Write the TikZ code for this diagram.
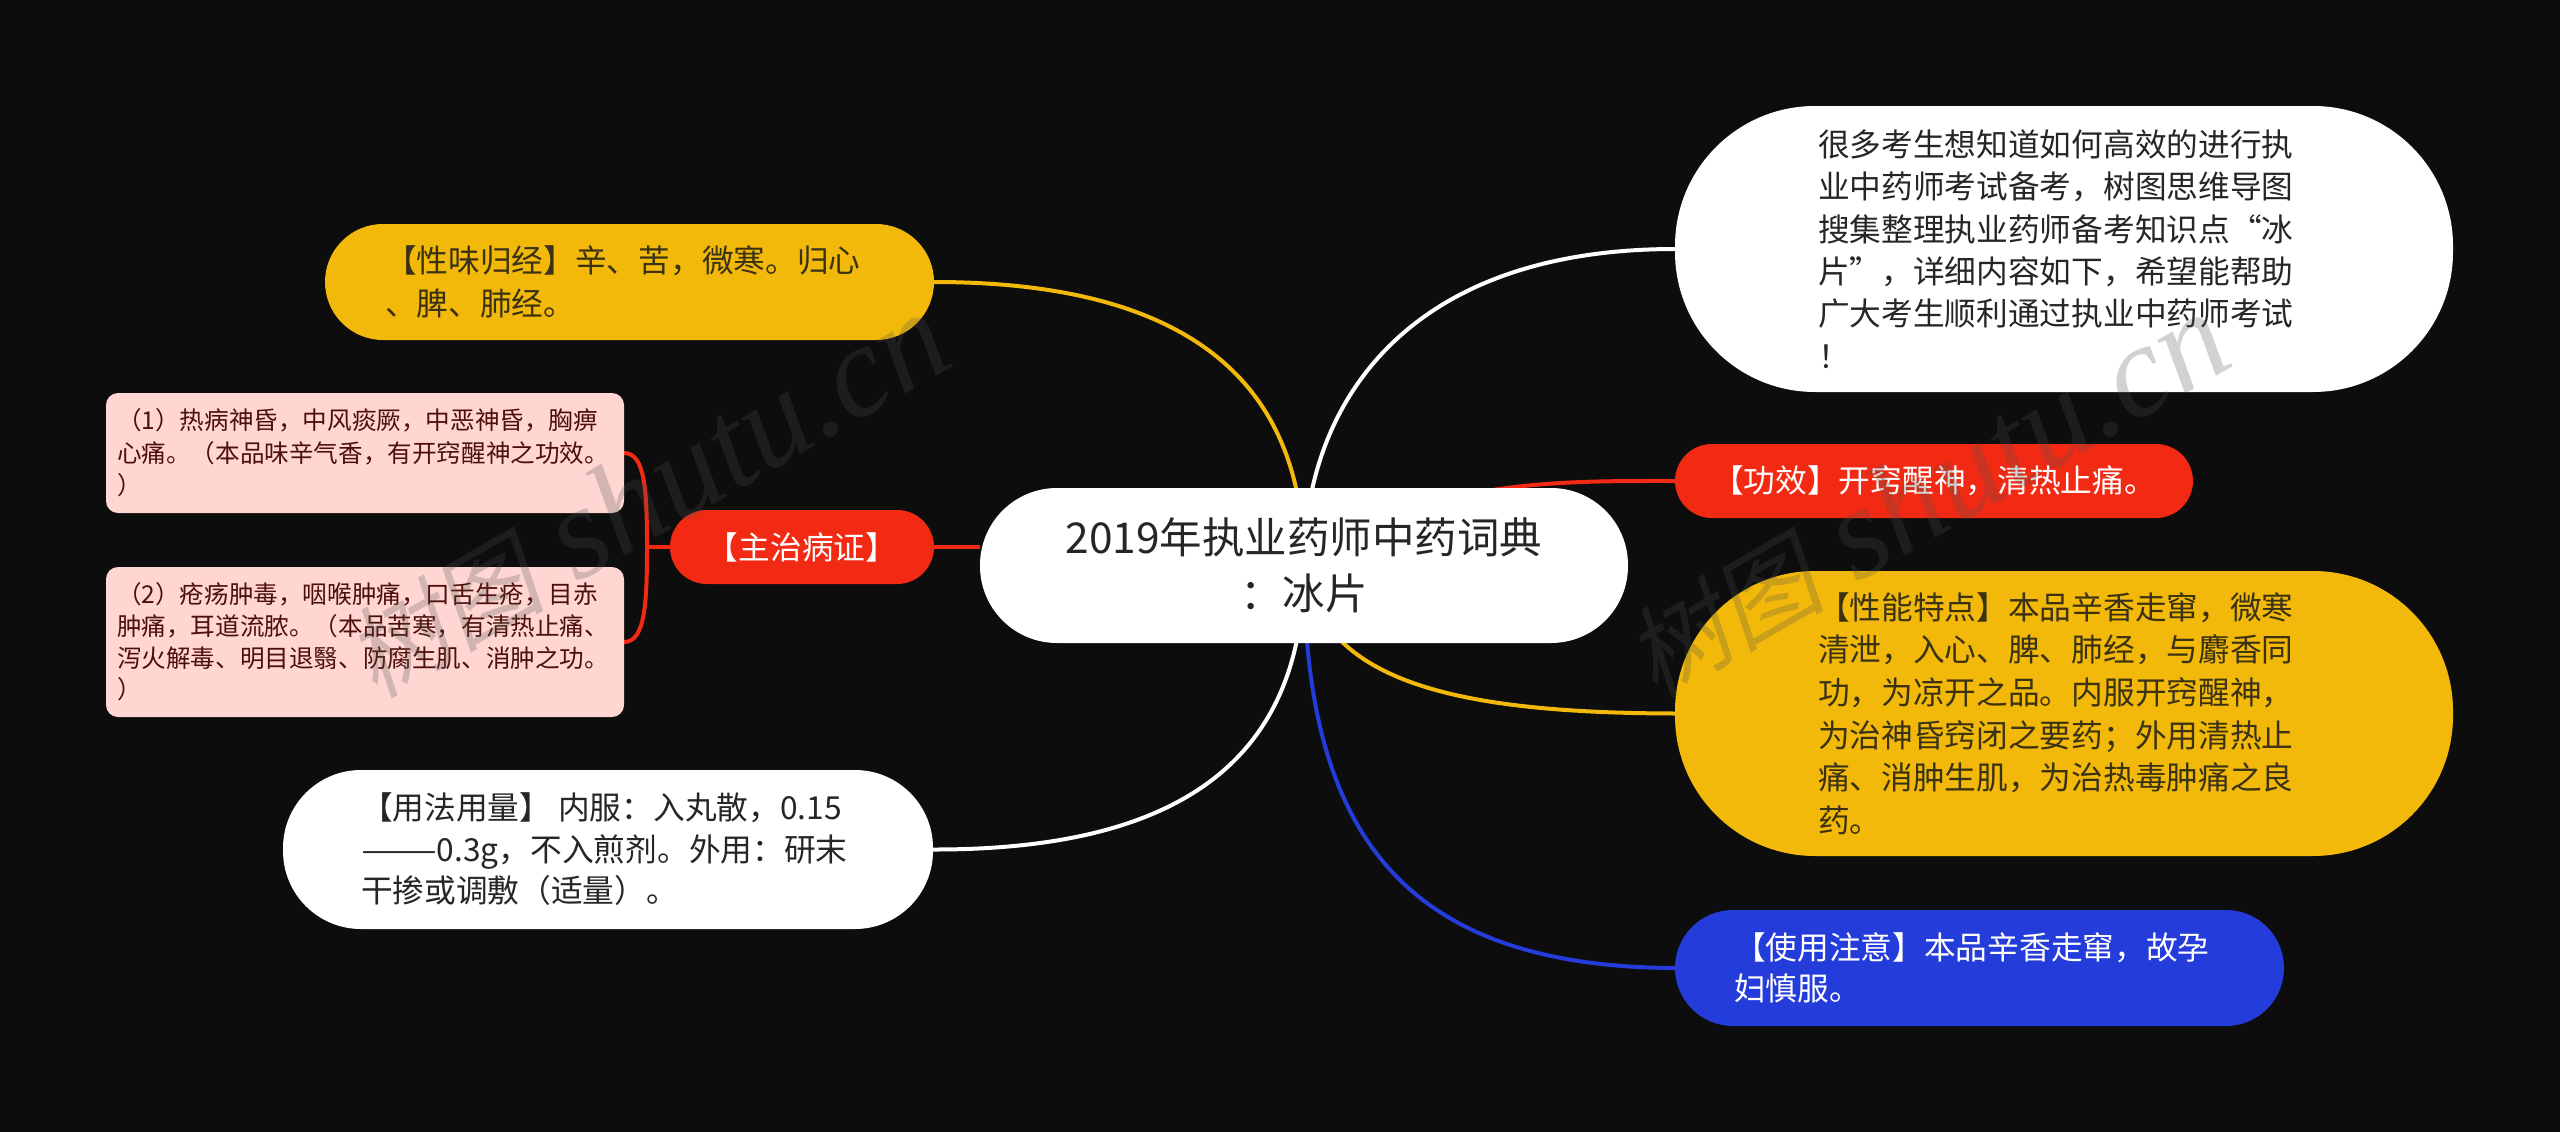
\documentclass[tikz,border=0pt]{standalone}
\usepackage{fontspec}
\usepackage{graphicx}
\setmainfont{Noto Sans CJK SC}
\newfontfamily\wmlatin{Liberation Serif}
\newfontfamily\wmcjk[FakeSlant=0.2]{Noto Sans CJK SC}
\definecolor{bgc}{HTML}{0D0D0D}
\definecolor{ylw}{HTML}{F2B90A}
\definecolor{rd}{HTML}{F22A14}
\definecolor{blu}{HTML}{243CD9}
\definecolor{pnk}{HTML}{FFD6D2}
\definecolor{wm}{HTML}{4F4F4F}
\definecolor{ytext}{HTML}{3A3212}
\definecolor{ptext}{HTML}{4D0F0A}
\newcommand{\blk}[5]{\makebox[#1pt][l]{\hspace*{#2pt}\begin{minipage}{#3pt}\fontsize{31.7pt}{#4pt}\selectfont\raggedright #5\end{minipage}}}
\newcommand{\pblk}[3]{\makebox[518pt][l]{\hspace*{#1pt}\begin{minipage}{510pt}\fontsize{24.6pt}{#2pt}\selectfont\raggedright #3\end{minipage}}}
\newcommand{\wmtext}{{\fontsize{100pt}{100pt}\selectfont\wmcjk 树图}{\fontsize{131pt}{131pt}\selectfont\wmlatin\itshape\ shutu.cn}}
\pgfdeclarelayer{back}
\pgfsetlayers{back,main}
\tikzset{
  x=1pt,y=-1pt,
  pill/.style={inner sep=0pt,outer sep=0pt,anchor=center,align=center},
  link/.style={line width=4pt},
  watermark/.style={anchor=base west,rotate=30,text=wm,text opacity=0.25,inner sep=0pt},
}
\newcommand{\pillnode}[8]{%
  \node[pill,fill=#7,text=#8,rounded corners=#6pt,minimum width={#4pt-#2pt},minimum height={#5pt-#3pt}] (#1) at ({(#2+#4)/2},{(#3+#5)/2})}
\begin{document}
\begin{tikzpicture}
\useasboundingbox (0,0) rectangle (2560,1132);

\pillnode{c}{980}{488}{1628}{643}{77}{white}{black!85}
 {\begin{minipage}{600pt}\centering\fontsize{42.5pt}{56pt}\selectfont 2019年执业药师中药词典\\：冰片\end{minipage}};
\pillnode{wr}{1675}{106}{2453}{392}{140}{white}{black!85}
 {\blk{778}{143}{500}{42.4}{很多考生想知道如何高效的进行执\\业中药师考试备考，树图思维导图\\搜集整理执业药师备考知识点“冰\\片”，详细内容如下，希望能帮助\\广大考生顺利通过执业中药师考试\\！}};
\pillnode{rr}{1675}{444}{2193}{518}{37}{rd}{white}
 {\fontsize{31.7pt}{40pt}\selectfont 【功效】开窍醒神，清热止痛。};
\pillnode{yr}{1675}{571}{2453}{856}{140}{ylw}{ytext}
 {\blk{778}{143}{500}{42.6}{【性能特点】本品辛香走窜，微寒\\清泄，入心、脾、肺经，与麝香同\\功，为凉开之品。内服开窍醒神，\\为治神昏窍闭之要药；外用清热止\\痛、消肿生肌，为治热毒肿痛之良\\药。}};
\pillnode{br}{1675}{910}{2284}{1026}{58}{blu}{white}
 {\blk{609}{59}{500}{41.5}{【使用注意】本品辛香走窜，故孕\\妇慎服。}};
\pillnode{yl}{325}{224}{934}{340}{58}{ylw}{ytext}
 {\blk{609}{60}{500}{43}{【性味归经】辛、苦，微寒。归心\\、脾、肺经。}};
\pillnode{rl}{670}{510}{934}{584}{37}{rd}{white}
 {\fontsize{31.7pt}{40pt}\selectfont 【主治病证】};
\pillnode{wl}{283}{770}{933}{929}{78}{white}{black!85}
 {\blk{650}{78}{500}{41.5}{【用法用量】 内服：入丸散，0.15\\\scalebox{1.43}[1]{——}0.3g，不入煎剂。外用：研末\\干掺或调敷（适量）。}};
\pillnode{p1}{106}{393}{624}{513}{12}{pnk}{ptext}
 {\pblk{11}{32.4}{（1）热病神昏，中风痰厥，中恶神昏，胸痹\\心痛。（本品味辛气香，有开窍醒神之功效。\\）}};
\pillnode{p2}{106}{567}{624}{717}{12}{pnk}{ptext}
 {\pblk{11}{31.7}{（2）疮疡肿毒，咽喉肿痛，口舌生疮，目赤\\肿痛，耳道流脓。（本品苦寒，有清热止痛、\\泻火解毒、明目退翳、防腐生肌、消肿之功。\\）}};

\coordinate (fork) at (647,547);
\begin{pgfonlayer}{back}
\fill[bgc] (0,0) rectangle (2560,1132);
\draw[link,ylw] (yl.east) .. controls (1180,282) and (1304,375) .. (c.center);
\draw[link,white] (wl.east) .. controls (1180,850) and (1304,760) .. (c.center);
\draw[link,rd] (rl.east) -- (rl.east -| c.west);
\draw[link,rd] (rl.west) -- (fork);
\draw[link,rd] (p1.east) .. controls (645,453) and (647,490) .. (fork);
\draw[link,rd] (p2.east) .. controls (645,642) and (647,604) .. (fork);
\draw[link,white] (wr.west) .. controls (1400,249) and (1304,410) .. (c.center);
\draw[link,rd] (rr.west) .. controls (1560,481) and (1420,478) .. (c.center);
\draw[link,ylw] (yr.west) .. controls (1450,713) and (1320,680) .. (c.center);
\draw[link,blu] (br.west) .. controls (1400,967) and (1304,830) .. (c.center);
\end{pgfonlayer}

\node[watermark] (wm1) at (375,700) {\wmtext};
\node[watermark] (wm2) at (1655,700) {\wmtext};
\end{tikzpicture}
\end{document}
